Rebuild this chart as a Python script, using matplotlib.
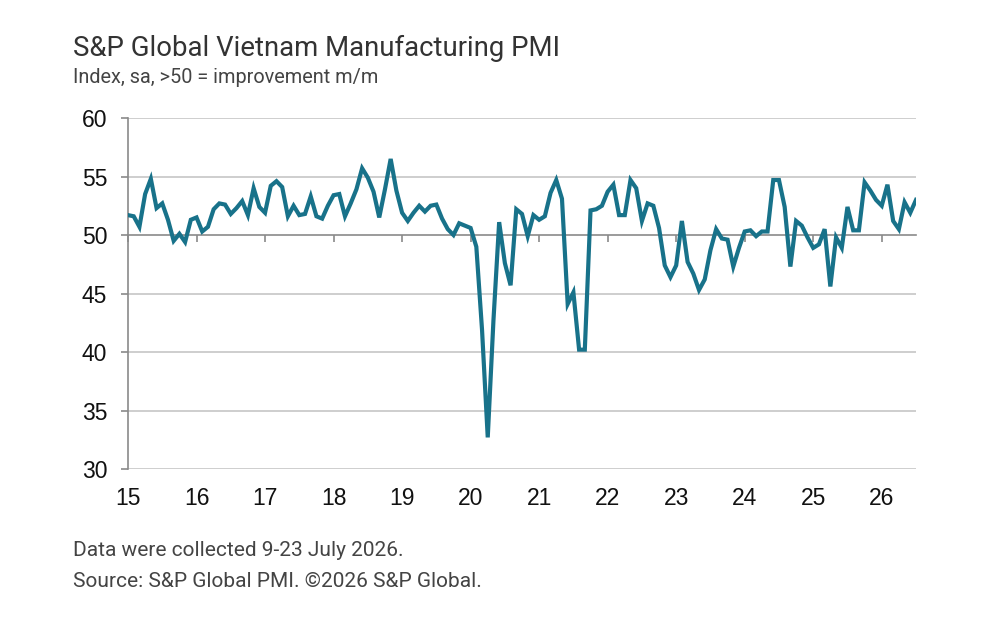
import numpy as np
import matplotlib
matplotlib.use("Agg")
import matplotlib.pyplot as plt

# monthly PMI readings, Jan 2015 .. Jul 2026
pmi_2015 = [51.7, 51.6, 50.7, 53.5, 54.8, 52.3, 52.7, 51.3, 49.5, 50.1, 49.4, 51.3]
pmi_2016 = [51.5, 50.3, 50.7, 52.2, 52.7, 52.6, 51.8, 52.3, 52.9, 51.7, 54.0, 52.4]
pmi_2017 = [51.9, 54.2, 54.6, 54.1, 51.6, 52.5, 51.7, 51.8, 53.3, 51.6, 51.4, 52.5]
pmi_2018 = [53.4, 53.5, 51.6, 52.7, 53.9, 55.7, 54.9, 53.7, 51.5, 53.9, 56.5, 53.8]
pmi_2019 = [51.9, 51.2, 51.9, 52.5, 52.0, 52.5, 52.6, 51.4, 50.5, 50.0, 51.0, 50.8]
pmi_2020 = [50.6, 49.0, 41.9, 32.7, 42.7, 51.1, 47.6, 45.7, 52.2, 51.8, 49.9, 51.7]
pmi_2021 = [51.3, 51.6, 53.6, 54.7, 53.1, 44.1, 45.1, 40.2, 40.2, 52.1, 52.2, 52.5]
pmi_2022 = [53.7, 54.3, 51.7, 51.7, 54.7, 54.0, 51.2, 52.7, 52.5, 50.6, 47.4, 46.4]
pmi_2023 = [47.4, 51.2, 47.7, 46.7, 45.3, 46.2, 48.7, 50.5, 49.7, 49.6, 47.3, 48.9]
pmi_2024 = [50.3, 50.4, 49.9, 50.3, 50.3, 54.7, 54.7, 52.4, 47.3, 51.2, 50.8, 49.8]
pmi_2025 = [48.9, 49.2, 50.5, 45.6, 49.8, 48.9, 52.4, 50.4, 50.4, 54.5, 53.8, 53.0]
pmi_2026 = [52.5, 54.3, 51.2, 50.5, 52.8, 51.9, 53.0]

pmi = (pmi_2015 + pmi_2016 + pmi_2017 + pmi_2018 + pmi_2019 + pmi_2020
       + pmi_2021 + pmi_2022 + pmi_2023 + pmi_2024 + pmi_2025 + pmi_2026)
start_year = 2015
x = start_year + np.arange(len(pmi)) / 12.0

years = list(range(2015, 2027))
year_labels = [str(y)[2:] for y in years]
y_ticks = [30, 35, 40, 45, 50, 55, 60]

title = "S&P Global Vietnam Manufacturing PMI"
subtitle = "Index, sa, >50 = improvement m/m"
note1 = "Data were collected 9-23 July 2026."
note2 = "Source: S&P Global PMI. \u00a92026 S&P Global."

line_color = "#18728a"
grid_color = "#c6c6c6"
axis_color = "#8a8a8a"
text_font = ["Roboto", "DejaVu Sans"]
tick_font = ["Liberation Sans", "DejaVu Sans"]

fig = plt.figure(figsize=(10, 6.25), dpi=100)
ax = fig.add_axes([0.128, 0.2496, 0.788, 0.5616])

# horizontal grid, the 50 line is drawn by the secondary axis spine
for v in y_ticks:
    if v != 50:
        ax.axhline(v, color=grid_color, lw=1.2, zorder=1)

ax.plot(x, pmi, color=line_color, lw=3.0, solid_joinstyle="miter", zorder=3)

ax.set_xlim(start_year, x[-1])
ax.set_ylim(30, 60)
ax.set_yticks(y_ticks)
ax.set_xticks(years)
ax.set_xticklabels(year_labels)

for s in ["top", "right", "bottom"]:
    ax.spines[s].set_visible(False)
ax.spines["left"].set_color(axis_color)
ax.spines["left"].set_linewidth(1.2)
ax.tick_params(axis="y", direction="out", length=5, width=1.2, color=axis_color,
               labelsize=16.5, pad=10, labelcolor="#111111")
ax.tick_params(axis="x", length=0, labelsize=16.5, pad=13, labelcolor="#111111")
for lab in ax.get_xticklabels() + ax.get_yticklabels():
    lab.set_family(tick_font)

# x axis crossing at 50 with the year tick marks
sec = ax.secondary_xaxis((50 - 30) / 30)
sec.xaxis.set_ticks_position("bottom")
sec.set_xticks(years)
sec.set_xticklabels([])
sec.tick_params(axis="x", direction="out", length=5, width=1.2, color=axis_color,
                labelbottom=False, labeltop=False)
for s in sec.spines.values():
    s.set_color(axis_color)
    s.set_linewidth(1.2)
    s.set_zorder(2)

fig.text(0.073, 0.923, title, fontsize=19.8, color="#333333", family=text_font,
         va="center", ha="left")
fig.text(0.073, 0.876, subtitle, fontsize=14.3, color="#444444", family=text_font,
         va="center", ha="left")
fig.text(0.073, 0.120, note1, fontsize=15, color="#444444", family=text_font,
         va="center", ha="left")
fig.text(0.073, 0.069, note2, fontsize=15, color="#444444", family=text_font,
         va="center", ha="left")

fig.savefig("out.png", dpi=100)
